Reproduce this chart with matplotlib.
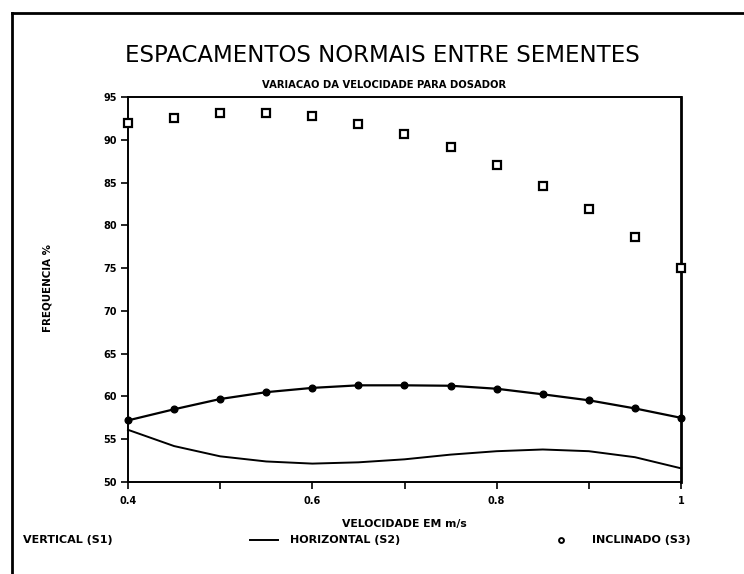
import matplotlib
matplotlib.use("Agg")
import matplotlib.pyplot as plt
from matplotlib.lines import Line2D
from matplotlib.ticker import MultipleLocator

velocidade = [0.40, 0.45, 0.50, 0.55, 0.60, 0.65, 0.70, 0.75, 0.80, 0.85, 0.90, 0.95, 1.00]
vertical_s1 = [57.2, 58.5, 59.7, 60.5, 61.0, 61.3, 61.3, 61.25, 60.9, 60.25, 59.55, 58.6, 57.5]
horizontal_s2 = [56.1, 54.2, 53.0, 52.4, 52.15, 52.3, 52.65, 53.2, 53.6, 53.8, 53.6, 52.9, 51.6]
inclinado_s3 = [92.0, 92.6, 93.1, 93.1, 92.8, 91.9, 90.7, 89.1, 87.1, 84.6, 81.9, 78.6, 75.0]

y_ticks = [50, 55, 60, 65, 70, 75, 80, 85, 90, 95]
x_major = [0.4, 0.6, 0.8, 1.0]
x_major_labels = ["0.4", "0.6", "0.8", "1"]

title = "ESPACAMENTOS NORMAIS ENTRE SEMENTES"
subtitle = "VARIACAO DA VELOCIDADE PARA DOSADOR"
xlabel = "VELOCIDADE EM m/s"
ylabel = "FREQUENCIA %"
leg_labels = ["VERTICAL (S1)", "HORIZONTAL (S2)", "INCLINADO (S3)"]

W, H = 744, 574
fig = plt.figure(figsize=(W / 100, H / 100), dpi=100)
fig.patch.set_facecolor("white")

ax = fig.add_axes([128 / W, 1 - 482 / H, (681 - 128) / W, (482 - 97) / H])
ax.plot(velocidade, vertical_s1, color="black", lw=1.6, marker="o", ms=4.8,
        mfc="black", mec="black", clip_on=False, zorder=3)
ax.plot(velocidade, horizontal_s2, color="black", lw=1.4, clip_on=False, zorder=3)
ax.plot(velocidade, inclinado_s3, ls="none", marker="s", ms=5.5, mfc="white",
        mec="black", mew=1.6, clip_on=False, zorder=4)

ax.set_xlim(0.4, 1.0)
ax.set_ylim(50, 95)
ax.set_yticks(y_ticks)
ax.set_yticklabels([str(v) for v in y_ticks])
ax.set_xticks(x_major)
ax.set_xticklabels(x_major_labels)
ax.xaxis.set_minor_locator(MultipleLocator(0.1))
ax.tick_params(axis="both", which="both", direction="out", length=5, width=1.2,
               labelsize=7, pad=3)
ax.tick_params(axis="x", pad=5)
for lab in ax.get_xticklabels() + ax.get_yticklabels():
    lab.set_fontweight("bold")
for sp in ax.spines.values():
    sp.set_linewidth(1.4)
ax.spines["right"].set_linewidth(2.0)

fig.text(382 / W, 1 - 55 / H, title, ha="center", va="center", fontsize=16.5)
fig.text(384 / W, 1 - 85 / H, subtitle, ha="center", va="center", fontsize=7.2,
         fontweight="bold")
fig.text(404 / W, 1 - 524 / H, xlabel, ha="center", va="center", fontsize=7.8,
         fontweight="bold")
fig.text(47 / W, 1 - 288 / H, ylabel, ha="center", va="center", fontsize=7.4,
         fontweight="bold", rotation=90)

# legend row
ly = 1 - 540 / H
fig.text(23 / W, ly, leg_labels[0], ha="left", va="center", fontsize=8, fontweight="bold")
fig.add_artist(Line2D([250 / W, 278 / W], [ly, ly], color="black", lw=1.4))
fig.text(290 / W, ly, leg_labels[1], ha="left", va="center", fontsize=8, fontweight="bold")
fig.add_artist(Line2D([561 / W], [ly], ls="none", marker="o", ms=3.5, mfc="white",
                      mec="black", mew=1.4))
fig.text(592 / W, ly, leg_labels[2], ha="left", va="center", fontsize=8, fontweight="bold")

# outer frame (left and top edges)
fig.add_artist(Line2D([12 / W, 12 / W], [0, 1 - 13 / H], color="black", lw=2.0))
fig.add_artist(Line2D([12 / W, 1.0], [1 - 13 / H, 1 - 13 / H], color="black", lw=2.0))

fig.savefig("out.png", dpi=100, facecolor="white")
